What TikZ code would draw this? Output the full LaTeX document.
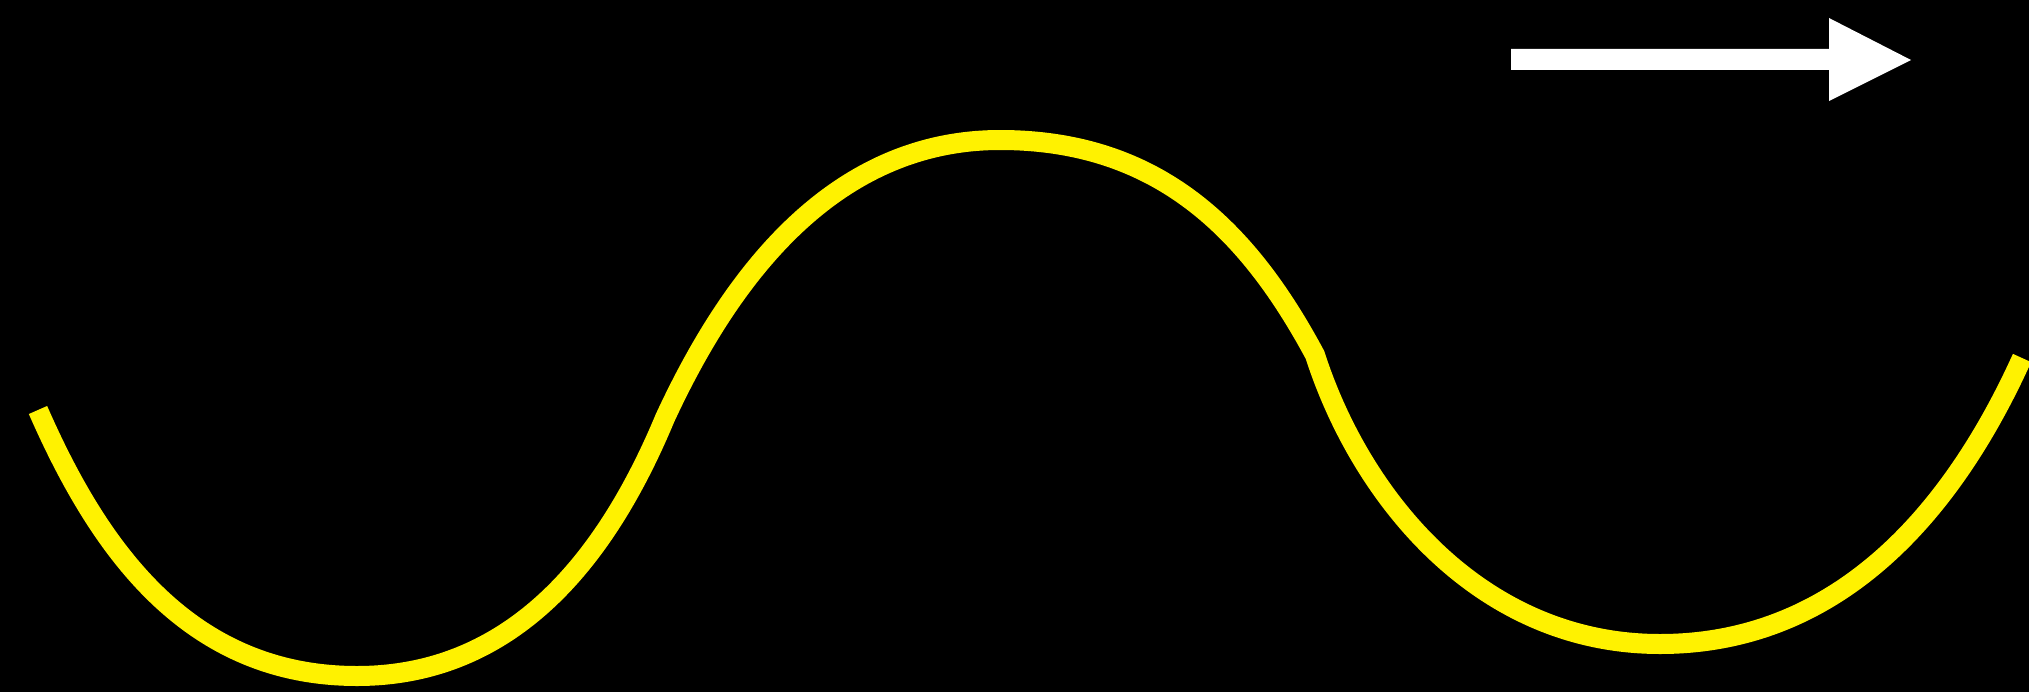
\documentclass[tikz,border=0pt]{standalone}

\tikzset{every picture/.style={line width=0.75pt}}

\begin{document}
\begin{tikzpicture}[x=0.75pt,y=0.75pt,yscale=-1,xscale=1]
%set diagram left start at 0, and has height of 692
\useasboundingbox (0,0) rectangle (2029,692);

%Shape: Rectangle [id:background]
\fill [color={rgb, 255:red, 0; green, 0; blue, 0 }  ,fill opacity=1 ] (0,0) -- (2029,0) -- (2029,692) -- (0,692) -- cycle ;

%Curve Lines [id:wave]
\draw [color={rgb, 255:red, 255; green, 242; blue, 0 }  ,draw opacity=1 ][line width=15]  (38,410) .. controls (98,547) and (187,676) .. (357,676) .. controls (522,676) and (612,545) .. (665,418) .. controls (728,282) and (830,140) .. (1000,140) .. controls (1160,140) and (1249,232) .. (1315,355) .. controls (1361,498) and (1480,644) .. (1660,644) .. controls (1850,644) and (1960,495) .. (2022,358) ;

%Shape: Right Arrow [id:arrow]
\fill [color={rgb, 255:red, 255; green, 255; blue, 255 }  ,fill opacity=1 ] (1511,49) -- (1829,49) -- (1829,18) -- (1911,60) -- (1829,101) -- (1829,70) -- (1511,70) -- cycle ;

\end{tikzpicture}
\end{document}
